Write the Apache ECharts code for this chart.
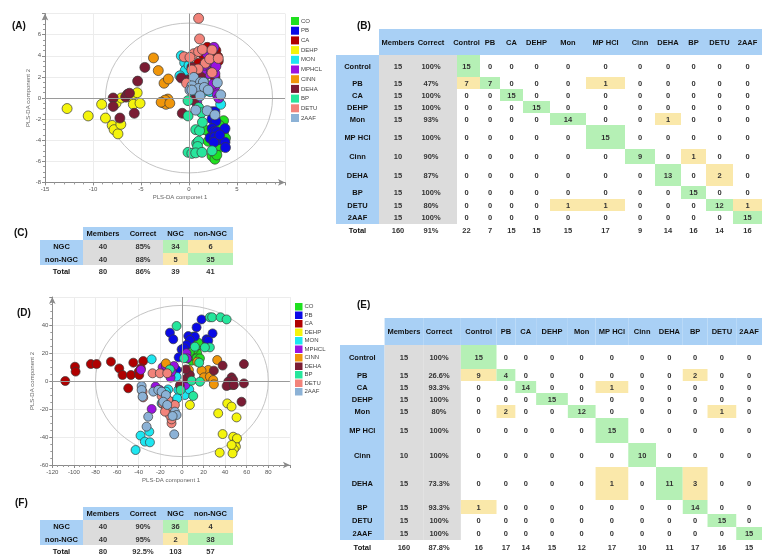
<!DOCTYPE html>
<html>
<head>
<meta charset="utf-8">
<script src="https://cdn.jsdelivr.net/npm/echarts@6/dist/echarts.min.js"></script>
<style>
html, body { margin: 0; padding: 0; background: #fff; }
#chart { width: 762px; height: 557px; }
</style>
</head>
<body>
<div id="chart"></div>
<script>
// ---- groups and colours -------------------------------------------------
const groups = ['CO', 'PB', 'CA', 'DEHP', 'MON', 'MPHCL', 'CINN', 'DEHA', 'BP', 'DETU', '2AAF'];
const groupColors = ['#1fe01f', '#0a0ae6', '#b00000', '#f4f40c', '#1ee6f0', '#9a12e0',
                     '#f0960a', '#7a1c34', '#26e69c', '#f2837a', '#8cb2d6'];

// ---- PLS-DA scores, model A (component 1, component 2) ------------------
const aCO = [[2.7,-2.1],[3.6,-2.15],[3.2,-2.6],[2.0,-4.1],[2.15,-3.3],[3.3,-3.3],[3.6,-3.2],[2.8,-4.6],[3.2,-4.7],[2.4,-5.5],[2.7,-5.8],[2.9,-5.4],[3.1,-4.5],[1.6,-3.0],[3.8,-3.8]];
const aPB = [[2.4,-1.3],[2.7,-1.3],[2.4,-2.0],[2.8,-2.2],[2.4,-2.9],[2.6,-3.2],[2.9,-3.2],[2.2,-3.8],[2.7,-3.7],[3.1,-3.95],[3.75,-2.9],[3.75,-4.2],[3.8,-4.7],[2.6,-4.2],[3.2,-3.5]];
const aCA = [[1.9,4.8],[2.6,4.2],[2.5,3.6],[3.05,3.5],[2.5,3.0],[2.1,4.2],[1.7,3.9],[2.7,2.0],[2.2,0.9],[1.0,3.3],[1.4,4.2],[2.8,4.5],[2.3,3.4],[3.0,3.9],[1.6,2.5]];
const aDEHP = [[-12.7,-1.0],[-10.5,-1.7],[-9.1,-0.6],[-8.7,-1.9],[-8.0,-2.6],[-7.8,-3.0],[-7.4,-3.4],[-7.1,-2.5],[-7.6,-0.5],[-7.05,0.0],[-6.5,0.1],[-6.0,0.1],[-5.8,-0.6],[-5.4,0.5],[-5.1,-0.5]];
const aMON = [[-0.8,4.0],[-0.45,3.35],[-0.4,2.6],[-0.95,2.1],[0.9,1.4],[1.0,0.8],[1.5,1.7],[3.3,-0.6],[0.0,3.1],[0.7,2.3],[1.3,1.0],[1.5,0.6],[-0.1,1.7],[0.5,0.45],[2.2,0.6]];
const aMPHCL = [[2.6,4.8],[1.9,4.2],[2.0,3.4],[1.8,2.65],[2.1,2.3],[2.7,2.3],[1.3,2.5],[2.7,1.1],[2.95,0.3],[3.1,0.0],[0.8,-0.45],[2.5,1.3],[1.6,3.1],[0.9,1.7],[2.8,3.0]];
const aCINN = [[-3.7,3.8],[-3.2,2.6],[-2.6,1.4],[-2.15,1.8],[-2.7,-0.45],[-2.4,-0.6],[-2.2,-0.1],[-2.5,-0.2],[-2.9,-0.4],[-2.0,-0.5]];
const aDEHA = [[-7.9,0.0],[-7.9,-0.8],[-7.2,-1.9],[-6.6,0.1],[-6.4,0.35],[-6.2,0.45],[-5.7,-1.45],[-5.35,1.6],[-4.6,2.9],[-0.8,1.9],[-0.7,-1.45],[0.0,1.7],[0.5,-0.2],[0.3,2.9],[1.2,2.0]];
const aBP = [[-0.1,-0.25],[-0.1,-1.7],[1.0,-0.9],[1.3,-1.4],[0.7,-3.0],[1.1,-3.1],[1.4,-2.3],[0.8,-4.3],[1.0,-4.1],[0.9,-4.6],[-0.1,-5.15],[0.3,-5.25],[0.7,-5.2],[1.35,-5.15],[2.4,-5.0]];
const aDETU = [[1.0,7.55],[1.1,5.6],[-0.5,3.9],[0.5,4.2],[1.0,4.4],[1.4,4.6],[2.4,4.55],[1.7,3.3],[0.95,2.75],[0.3,2.65],[2.15,3.7],[2.4,2.4],[0.1,3.85],[3.05,3.75],[-0.25,1.4]];
const a2AAF = [[0.5,1.95],[1.2,1.5],[1.5,1.5],[0.3,1.15],[1.0,0.9],[1.6,1.0],[2.95,1.45],[0.1,0.75],[0.3,0.75],[1.15,0.2],[2.0,0.75],[0.7,-1.15],[1.9,-1.2],[3.3,0.3],[2.7,-1.6]];

// ---- PLS-DA scores, model D --------------------------------------------
const dCO = [[10.5,31.7],[7.4,28.1],[13,24.5],[12,21],[14.2,19.8],[9,14.5],[13.6,16.2],[5.2,16.2],[16.7,16.2],[11.1,22.6],[17.3,25.7],[21.3,24.5],[3.7,19.8],[7.4,21],[15.1,27.4]];
const dPB = [[-11.1,34.5],[-8,29.8],[18.2,44],[13.6,38.3],[5.9,32.1],[12,31.7],[22.8,29.8],[28.4,34],[24.4,28.8],[7.4,29.3],[4.3,25.7],[-0.3,22.6],[-3,16.9],[1.9,23.3],[-4.9,7.9]];
const dCA = [[-108,0],[-99,10.2],[-98.4,6.7],[-84.3,12.1],[-79,12.1],[-65.7,13.8],[-58,9],[-55,4.3],[-47.2,4.3],[-45,13.1],[-40,6.7],[-39.5,4.3],[-35.8,14.3],[-49.7,-5.2],[-38,9]];
const dDEHP = [[33.6,-23.1],[42,-16],[46,-18.3],[50.6,-26],[47,-2.9],[37.7,-37.9],[35,-51.2],[47.5,-39.8],[49,-44.5],[50,-46.9],[51,-41],[48.1,-48.8],[46.9,-51.7],[7.4,-17.1],[46,-45.7]];
const dMON = [[-42.9,-49.3],[-38.3,-39],[-34.3,-43.3],[-29.6,-43.8],[-30.2,-36.2],[-9.5,-15],[-28,15.5],[-18.8,-16],[-12.7,-6],[-4.9,3.1],[-3.4,-6.4],[2.8,-10],[6.8,-6],[-14.8,-7.6],[-4.3,-12.4]];
const dMPHCL = [[-38,7.9],[-13.6,7.9],[-7.4,10.7],[-10.5,2.4],[-17.9,9.8],[-24.4,-4],[-28,-20],[-11.1,-19.5],[4.3,19.8],[3.1,-2.9],[-14.8,10.7],[-9.6,6.7],[-20.4,-6.4],[-8,-17.1],[4.9,16.2]];
const dCINN = [[-14.8,12.6],[14.2,13.8],[24.4,7.9],[18.2,7.4],[32.7,15],[20.4,2.6],[25.9,3.1],[29,0.7],[29.6,-2.4],[6.5,7.9]];
const dDEHA = [[57.4,12.1],[37.7,11],[29.6,7.4],[46,2.6],[47.5,0.7],[42.9,-0.5],[43.8,-2.9],[41.4,-3.6],[48.1,-2.9],[57.4,-1.7],[55.2,-14.8],[-1.9,-3.1],[4.3,1.9],[7.4,4.3],[3.7,8.3]];
const dBP = [[-4.9,39.3],[25.9,45.5],[28,45.5],[35.8,45.5],[41.4,44],[25.9,24],[21.3,24],[12,24.5],[-11.1,8.3],[1.9,16.2],[16,13.1],[9,0.2],[16.7,-0.5],[10.5,-10.7],[-1.2,-6.4]];
const dDETU = [[-27.2,5.5],[-20.4,5.5],[-36.4,-7.6],[-35.8,-11.7],[-18.8,-10.7],[-17.9,-16],[-14.8,-19.5],[-12.7,-13.6],[-10.5,-18.8],[-6.5,-17.1],[-9.6,-30.2],[-9.6,-27.4],[-11.1,-24.5],[-13.6,5.5],[-15.7,-21.9]];
const d2AAF = [[-37.3,-3.6],[-37.3,-6.4],[-36.4,-11.2],[-26.5,-7.6],[-21.9,-6.4],[-18.8,-7.6],[-14.8,-10],[-32.7,-32.6],[-17.3,-14.8],[-13.6,-17.1],[-6.5,-21.9],[-4.9,-24.3],[-8.6,-25],[-31.2,-25.5],[-7.1,-38.1]];

const scoresA = [aCO, aPB, aCA, aDEHP, aMON, aMPHCL, aCINN, aDEHA, aBP, aDETU, a2AAF];
const scoresD = [dCO, dPB, dCA, dDEHP, dMON, dMPHCL, dCINN, dDEHA, dBP, dDETU, d2AAF];

// 95% confidence ellipses: centre x, centre y, radius x, radius y
const ellipseA = [0, 0, 8.7, 7.1];
const ellipseD = [0, 0, 80, 54];

// ---- confusion tables ----------------------------------------------------
const classCols = ['Control', 'PB', 'CA', 'DEHP', 'Mon', 'MP HCl', 'Cinn', 'DEHA', 'BP', 'DETU', '2AAF'];
const tableHeads = ['Members', 'Correct'].concat(classCols);
const rowLabels = classCols.concat(['Total']);

const membersB = [15, 15, 15, 15, 15, 15, 10, 15, 15, 15, 15, 160];
const correctB = ['100%', '47%', '100%', '100%', '93%', '100%', '90%', '87%', '100%', '80%', '100%', '91%'];
const matrixB = [
  [15, 0, 0, 0, 0, 0, 0, 0, 0, 0, 0],
  [7, 7, 0, 0, 0, 1, 0, 0, 0, 0, 0],
  [0, 0, 15, 0, 0, 0, 0, 0, 0, 0, 0],
  [0, 0, 0, 15, 0, 0, 0, 0, 0, 0, 0],
  [0, 0, 0, 0, 14, 0, 0, 1, 0, 0, 0],
  [0, 0, 0, 0, 0, 15, 0, 0, 0, 0, 0],
  [0, 0, 0, 0, 0, 0, 9, 0, 1, 0, 0],
  [0, 0, 0, 0, 0, 0, 0, 13, 0, 2, 0],
  [0, 0, 0, 0, 0, 0, 0, 0, 15, 0, 0],
  [0, 0, 0, 0, 1, 1, 0, 0, 0, 12, 1],
  [0, 0, 0, 0, 0, 0, 0, 0, 0, 0, 15]
];
const totalsB = [22, 7, 15, 15, 15, 17, 9, 14, 16, 14, 16];

const membersE = [15, 15, 15, 15, 15, 15, 10, 15, 15, 15, 15, 160];
const correctE = ['100%', '26.6%', '93.3%', '100%', '80%', '100%', '100%', '73.3%', '93.3%', '100%', '100%', '87.8%'];
const matrixE = [
  [15, 0, 0, 0, 0, 0, 0, 0, 0, 0, 0],
  [9, 4, 0, 0, 0, 0, 0, 0, 2, 0, 0],
  [0, 0, 14, 0, 0, 1, 0, 0, 0, 0, 0],
  [0, 0, 0, 15, 0, 0, 0, 0, 0, 0, 0],
  [0, 2, 0, 0, 12, 0, 0, 0, 0, 1, 0],
  [0, 0, 0, 0, 0, 15, 0, 0, 0, 0, 0],
  [0, 0, 0, 0, 0, 0, 10, 0, 0, 0, 0],
  [0, 0, 0, 0, 0, 1, 0, 11, 3, 0, 0],
  [1, 0, 0, 0, 0, 0, 0, 0, 14, 0, 0],
  [0, 0, 0, 0, 0, 0, 0, 0, 0, 15, 0],
  [0, 0, 0, 0, 0, 0, 0, 0, 0, 0, 15]
];
const totalsE = [16, 17, 14, 15, 12, 17, 10, 11, 17, 16, 15];

const ngcCols = ['NGC', 'non-NGC'];
const ngcHeads = ['Members', 'Correct'].concat(ngcCols);
const ngcRows = ['NGC', 'non-NGC', 'Total'];
const membersC = [40, 40, 80];
const correctC = ['85%', '88%', '86%'];
const matrixC = [[34, 6], [5, 35]];
const totalsC = [39, 41];
const membersF = [40, 40, 80];
const correctF = ['90%', '95%', '92.5%'];
const matrixF = [[36, 4], [2, 38]];
const totalsF = [103, 57];

// ---- table layout (column widths / row heights, label column first) ----
const layoutB = { left: 336, top: 29,
  colWidths: [43, 38, 40, 23, 20, 23, 27, 36, 39, 30, 26, 25, 27, 29],
  rowHeights: [26, 22, 12, 12, 12, 12, 24, 15, 22, 13, 12, 13, 13],
  textDx: { 2: -6, 3: -2 } };
const layoutE = { left: 340, top: 318,
  colWidths: [45, 39, 38, 36, 19, 21, 32, 28, 33, 28, 27, 25, 29, 26],
  rowHeights: [27, 24, 12, 12, 12, 13, 25, 24, 33, 14, 13, 13, 15],
  textDx: { 2: -3, 14: -2 } };
const layoutC = { left: 40, top: 227, colWidths: [43, 40, 40, 25, 45], rowHeights: [13, 13, 12, 12], textDx: {} };
const layoutF = { left: 40, top: 507, colWidths: [43, 40, 40, 25, 45], rowHeights: [13, 13, 12, 12], textDx: {} };

const cellFills = { head: '#a9d0f5', label: '#a9d0f5', meta: '#dcdcdc', diag: '#b5f0b5', off: '#fae8aa' };
const FONT = '"Liberation Sans", Arial, sans-serif';

function tableItems(heads, labels, members, correct, matrix, totals) {
  const items = [];
  heads.forEach((h, i) => items.push({ c: i + 1, r: 0, text: h, kind: 'head' }));
  labels.forEach((lab, r) => {
    const last = r === labels.length - 1;
    items.push({ c: 0, r: r + 1, text: lab, kind: last ? 'plain' : 'label' });
    items.push({ c: 1, r: r + 1, text: String(members[r]), kind: last ? 'plain' : 'meta' });
    items.push({ c: 2, r: r + 1, text: correct[r], kind: last ? 'plain' : 'meta' });
    const vals = last ? totals : matrix[r];
    vals.forEach((v, j) => items.push({
      c: j + 3, r: r + 1, text: String(v),
      kind: last ? 'plain' : (j === r ? 'diag' : (v > 0 ? 'off' : 'plain'))
    }));
  });
  return items;
}

function cumulative(arr) {
  const out = [0];
  arr.forEach(v => out.push(out[out.length - 1] + v));
  return out;
}

function tableSeries(idx, layout, items) {
  const xs = cumulative(layout.colWidths);
  const ys = cumulative(layout.rowHeights);
  return {
    type: 'custom', xAxisIndex: idx, yAxisIndex: idx, clip: false, silent: true,
    data: items.map(it => [it.c, it.r]),
    renderItem: function (params, api) {
      const it = items[params.dataIndex];
      const p0 = api.coord([xs[it.c], ys[it.r]]);
      const p1 = api.coord([xs[it.c + 1], ys[it.r + 1]]);
      const children = [];
      const fill = cellFills[it.kind];
      if (fill) {
        children.push({ type: 'rect', z2: 0,
          shape: { x: p0[0], y: p0[1], width: p1[0] - p0[0], height: p1[1] - p0[1] },
          style: { fill: fill } });
      }
      const dx = layout.textDx[it.c] || 0;
      const dark = it.kind === 'head' || it.kind === 'label' || it.c === 0;
      children.push({ type: 'text', z2: 10,
        style: { text: it.text, x: (p0[0] + p1[0]) / 2 + dx, y: (p0[1] + p1[1]) / 2 + 0.5,
                 align: 'center', verticalAlign: 'middle',
                 font: 'bold 7.5px ' + FONT, fill: dark ? '#111' : '#333' } });
      return { type: 'group', children: children };
    }
  };
}

function tableGrid(layout) {
  const w = layout.colWidths.reduce((a, b) => a + b, 0);
  const h = layout.rowHeights.reduce((a, b) => a + b, 0);
  return { grid: { left: layout.left, top: layout.top, width: w, height: h },
           x: { min: 0, max: w }, y: { min: 0, max: h } };
}

// ---- score plots ---------------------------------------------------------
function scoreAxes(idx, xr, yr, xName, yName, nameShift, yGap) {
  const axisLine = { show: true, onZero: false, symbol: ['none', 'arrow'], symbolSize: [5, 7],
                     lineStyle: { color: '#8a8a8a', width: 1 } };
  const label = { fontSize: 6, color: '#555', fontFamily: FONT, showMaxLabel: false, margin: 4 };
  const nameStyle = { fontSize: 6, color: '#666', fontFamily: FONT };
  return {
    x: { gridIndex: idx, type: 'value', min: xr[0], max: xr[1], interval: xr[2],
         axisLine: axisLine, axisTick: { show: true, length: 3, lineStyle: { color: '#8a8a8a' } },
         minorTick: { show: true, splitNumber: xr[3], length: 2, lineStyle: { color: '#9a9a9a' } },
         axisLabel: label, splitLine: { show: true, lineStyle: { color: '#ececec' } },
         name: xName, nameLocation: 'middle', nameGap: 12,
         nameTextStyle: Object.assign({ padding: [0, 0, 0, nameShift] }, nameStyle) },
    y: { gridIndex: idx, type: 'value', min: yr[0], max: yr[1], interval: yr[2],
         axisLine: axisLine, axisTick: { show: true, length: 3, lineStyle: { color: '#8a8a8a' } },
         minorTick: { show: true, splitNumber: yr[3], length: 2, lineStyle: { color: '#9a9a9a' } },
         axisLabel: label, splitLine: { show: true, lineStyle: { color: '#ececec' } },
         name: yName, nameLocation: 'middle', nameGap: yGap, nameTextStyle: nameStyle }
  };
}

function ellipseSeries(idx, e) {
  return {
    type: 'custom', xAxisIndex: idx, yAxisIndex: idx, clip: false, silent: true, z: 1,
    data: [e],
    renderItem: function (params, api) {
      const c = api.coord([api.value(0), api.value(1)]);
      const s = api.size([api.value(2), api.value(3)]);
      return { type: 'ellipse', shape: { cx: c[0], cy: c[1], rx: s[0], ry: s[1] },
               style: { fill: 'none', stroke: '#c4c4c4', lineWidth: 1 } };
    }
  };
}

function originLines(idx) {
  return {
    type: 'line', xAxisIndex: idx, yAxisIndex: idx, data: [], silent: true, z: 1,
    markLine: { silent: true, symbol: 'none', animation: false, label: { show: false },
                lineStyle: { color: '#9a9a9a', width: 1, type: 'solid' },
                data: [{ xAxis: 0 }, { yAxis: 0 }] }
  };
}

function scoreSeries(idx, sets, size) {
  return sets.map((pts, g) => ({
    name: groups[g], type: 'scatter', xAxisIndex: idx, yAxisIndex: idx, z: 3,
    data: pts, symbol: 'circle', symbolSize: size,
    itemStyle: { color: groupColors[g], borderColor: '#3a3a3a', borderWidth: 0.7, opacity: 1 }
  }));
}

const axA = scoreAxes(0, [-15, 10, 5, 5], [-8, 8, 2, 4], 'PLS-DA componet 1', 'PLS-DA component 2', 30, 11);
const axD = scoreAxes(1, [-120, 100, 20, 4], [-60, 60, 20, 4], 'PLS-DA component 1', 'PLS-DA component 2', 0, 13);

const tB = tableGrid(layoutB), tC = tableGrid(layoutC), tE = tableGrid(layoutE), tF = tableGrid(layoutF);
const hiddenAxis = (i, r, inv) => ({ gridIndex: i, type: 'value', min: r.min, max: r.max, show: false, inverse: !!inv });

const itemsB = tableItems(tableHeads, rowLabels, membersB, correctB, matrixB, totalsB);
const itemsE = tableItems(tableHeads, rowLabels, membersE, correctE, matrixE, totalsE);
const itemsC = tableItems(ngcHeads, ngcRows, membersC, correctC, matrixC, totalsC);
const itemsF = tableItems(ngcHeads, ngcRows, membersF, correctF, matrixF, totalsF);

const legendBase = {
  data: groups, orient: 'vertical', icon: 'rect', selectedMode: false,
  itemStyle: { borderWidth: 0 },
  textStyle: { fontSize: 6, color: '#444', fontFamily: FONT, padding: [0, 0, 0, -3] }
};

const panelTitle = (t, left, top) => ({ text: t, left: left, top: top, padding: 0,
  textStyle: { fontSize: 10, fontWeight: 'bold', color: '#111', fontFamily: FONT } });

const option = {
  animation: false,
  backgroundColor: '#fff',
  title: [
    panelTitle('(A)', 12, 21), panelTitle('(B)', 357, 21), panelTitle('(C)', 14, 228),
    panelTitle('(D)', 17, 308), panelTitle('(E)', 357, 300), panelTitle('(F)', 15, 498)
  ],
  legend: [
    Object.assign({ left: 286, top: 12, itemWidth: 8, itemHeight: 8, itemGap: 1.7 }, legendBase),
    Object.assign({ left: 290, top: 298, itemWidth: 7.5, itemHeight: 7.5, itemGap: 1 }, legendBase)
  ],
  grid: [
    { left: 45, top: 13.6, width: 240, height: 168.8 },
    { left: 52.3, top: 297, width: 237.6, height: 168 },
    tB.grid, tC.grid, tE.grid, tF.grid
  ],
  xAxis: [axA.x, axD.x, hiddenAxis(2, tB.x), hiddenAxis(3, tC.x), hiddenAxis(4, tE.x), hiddenAxis(5, tF.x)],
  yAxis: [axA.y, axD.y, hiddenAxis(2, tB.y, true), hiddenAxis(3, tC.y, true), hiddenAxis(4, tE.y, true), hiddenAxis(5, tF.y, true)],
  series: [].concat(
    [originLines(0), ellipseSeries(0, ellipseA)],
    scoreSeries(0, scoresA, 10),
    [originLines(1), ellipseSeries(1, ellipseD)],
    scoreSeries(1, scoresD, 9),
    [tableSeries(2, layoutB, itemsB), tableSeries(3, layoutC, itemsC),
     tableSeries(4, layoutE, itemsE), tableSeries(5, layoutF, itemsF)]
  )
};

const chart = echarts.init(document.getElementById('chart'), null, { renderer: 'canvas' });
chart.setOption(option);
</script>
</body>
</html>
